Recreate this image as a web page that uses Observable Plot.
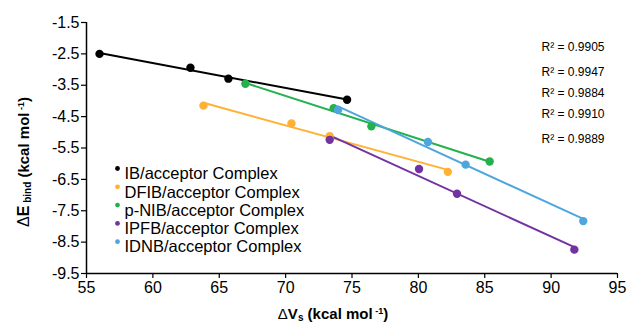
<!DOCTYPE html>
<html><head><meta charset="utf-8">
<script src="https://cdn.jsdelivr.net/npm/d3@7"></script>
<script src="https://cdn.jsdelivr.net/npm/@observablehq/plot@0.6"></script>
<style>
body{margin:0;background:#fff;}
svg{display:block;}
</style>
</head><body><div id="chart"></div>
<script>
// ---- data ----
const series = ["IB/acceptor Complex", "DFIB/acceptor Complex", "p-NIB/acceptor Complex", "IPFB/acceptor Complex", "IDNB/acceptor Complex"];
const colors = ["#000000", "#FFB133", "#22B14C", "#7232A0", "#4EA6DE"];
const vsIB = [55.98, 62.83, 65.69, 74.63];
const eIB = [-2.50, -2.94, -3.29, -3.96];
const vsDFIB = [63.81, 70.44, 73.32, 82.22];
const eDFIB = [-4.15, -4.72, -5.12, -6.26];
const vsNIB = [66.97, 73.62, 76.46, 85.37];
const eNIB = [-3.45, -4.23, -4.81, -5.93];
const vsIPFB = [73.32, 80.05, 82.91, 91.75];
const eIPFB = [-5.24, -6.17, -6.96, -8.74];
const vsIDNB = [73.95, 80.72, 83.56, 92.42];
const eIDNB = [-4.29, -5.31, -6.03, -7.83];
const r2Labels = ["R² = 0.9905", "R² = 0.9947", "R² = 0.9884", "R² = 0.9910", "R² = 0.9889"];
const xTicks = [55, 60, 65, 70, 75, 80, 85, 90, 95];
const yTicks = [-9.5, -8.5, -7.5, -6.5, -5.5, -4.5, -3.5, -2.5, -1.5];

// ---- layout (pixel offsets within the frame) ----
const legendDy = [145, 163.3, 181.6, 199.9, 218.2];
const r2Dy = [20, 45, 66, 87, 112];
const FONT = "'Liberation Sans', Arial, sans-serif";

const all = [[vsIB, eIB], [vsDFIB, eDFIB], [vsNIB, eNIB], [vsIPFB, eIPFB], [vsIDNB, eIDNB]];
const rows = [];
all.forEach(([xs, ys], i) => xs.forEach((x, j) => rows.push({series: series[i], vs: x, e: ys[j]})));

const legendMarks = series.flatMap((s, i) => [
  Plot.dot([s], {frameAnchor: "top-left", dx: 31, dy: legendDy[i] + 1, r: 2.4, fill: d => d}),
  Plot.text([s], {frameAnchor: "top-left", dx: 38, dy: legendDy[i], text: d => d, fill: "#000", textAnchor: "start", fontSize: 16.5})
]);
const r2Marks = r2Labels.map((t, i) =>
  Plot.text([t], {frameAnchor: "top-left", dx: 455, dy: r2Dy[i], text: d => d, fill: "#000", textAnchor: "start", fontSize: 12})
);

const svg = Plot.plot({
  width: 628, height: 325,
  marginLeft: 86, marginRight: 11, marginTop: 22, marginBottom: 52,
  style: {fontFamily: FONT, color: "#000", background: "#fff"},
  x: {domain: [55, 95]},
  y: {domain: [-9.5, -1.5]},
  color: {domain: series, range: colors},
  marks: [
    Plot.axisX({ticks: xTicks, tickSize: 5, tickPadding: 3, fontSize: 16, label: null, stroke: "#000", strokeWidth: 1.2}),
    Plot.axisY({ticks: yTicks, tickFormat: d => d.toFixed(1), tickSize: 5, tickPadding: 2, fontSize: 16, label: null, stroke: "#000", strokeWidth: 1.2}),
    Plot.ruleX([55], {stroke: "#000", strokeWidth: 1.5}),
    Plot.ruleY([-9.5], {stroke: "#000", strokeWidth: 1.5}),
    Plot.linearRegressionY(rows, {x: "vs", y: "e", stroke: "series", strokeWidth: 2, ci: 0}),
    Plot.dot(rows, {x: "vs", y: "e", fill: "series", r: 4.2}),
    ...legendMarks,
    ...r2Marks
  ]
});

// axis titles with sub/superscripts
const s = d3.select(svg);
const xt = s.append("text").attr("x", 333).attr("y", 319).attr("text-anchor", "middle")
  .attr("font-family", FONT).attr("font-size", 15).attr("font-weight", "bold").attr("fill", "#000");
xt.append("tspan").attr("font-weight", "normal").text("Δ");
xt.append("tspan").text("V");
xt.append("tspan").attr("font-size", 10).attr("dy", 2).text("s");
xt.append("tspan").attr("dy", -2).text(" (kcal mol");
xt.append("tspan").attr("font-size", 9).attr("dy", -5).text(" -1");
xt.append("tspan").attr("dy", 5).text(")");

const yt = s.append("text").attr("transform", "translate(29,162) rotate(-90)").attr("text-anchor", "middle")
  .attr("font-family", FONT).attr("font-size", 15).attr("font-weight", "bold").attr("fill", "#000");
yt.append("tspan").attr("font-weight", "normal").attr("font-size", 16).text("Δ");
yt.append("tspan").attr("font-size", 16).text("E");
yt.append("tspan").attr("font-size", 10).attr("dy", 2).text(" bind");
yt.append("tspan").attr("dy", -2).text(" (kcal mol");
yt.append("tspan").attr("font-size", 9).attr("dy", -5).text(" -1");
yt.append("tspan").attr("dy", 5).text(")");

document.getElementById("chart").appendChild(svg);
</script>
</body></html>
